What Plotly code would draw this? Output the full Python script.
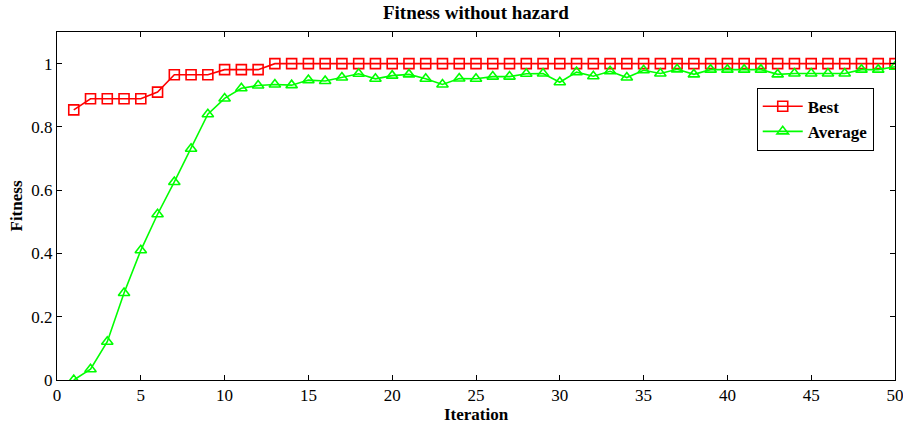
import plotly.graph_objects as go

iterations = list(range(1, 51))
best = [0.854, 0.889, 0.889, 0.889, 0.889, 0.91, 0.965, 0.965, 0.965, 0.981,
        0.981, 0.981] + [1.0] * 38
average = [0.0, 0.034, 0.121, 0.275, 0.41, 0.524, 0.626, 0.731, 0.84, 0.89,
           0.922, 0.931, 0.934, 0.932, 0.948, 0.945, 0.956, 0.968, 0.952, 0.962,
           0.966, 0.952, 0.934, 0.953, 0.952, 0.959, 0.959, 0.968, 0.969, 0.941,
           0.973, 0.96, 0.976, 0.956, 0.979, 0.969, 0.982, 0.966, 0.981, 0.981,
           0.981, 0.981, 0.966, 0.969, 0.969, 0.969, 0.969, 0.981, 0.981, 0.99]

xticks = [0, 5, 10, 15, 20, 25, 30, 35, 40, 45, 50]
yticks = [0, 0.2, 0.4, 0.6, 0.8, 1]
ytick_labels = ["0", "0.2", "0.4", "0.6", "0.8", "1"]

FONT = "Liberation Serif"

fig = go.Figure()
fig.add_trace(go.Scatter(
    x=iterations, y=best, name="<b>Best</b>", mode="lines+markers",
    line=dict(color="#ff0000", width=1.6),
    marker=dict(symbol="square-open", size=10, color="#ff0000", line=dict(width=1.6)),
))
fig.add_trace(go.Scatter(
    x=iterations, y=average, name="<b>Average</b>", mode="lines+markers",
    line=dict(color="#00ff00", width=1.6),
    marker=dict(symbol="triangle-up-open", size=10, color="#00ff00", line=dict(width=1.6)),
))

axis_common = dict(
    showgrid=False, zeroline=False, showline=True, linecolor="black", linewidth=1,
    mirror="ticks", ticks="inside", ticklen=5, tickcolor="black", automargin=False,
    ticklabeloverflow="allow",
    tickfont=dict(family=FONT, size=17, color="black"),
)

fig.update_layout(
    width=903, height=426,
    margin=dict(l=57, r=8, t=32, b=46),
    paper_bgcolor="white", plot_bgcolor="white",
    title=dict(text="<b>Fitness without hazard</b>", x=0.527, xanchor="center",
               y=0.972, yanchor="middle",
               font=dict(family=FONT, size=19, color="black")),
    xaxis=dict(range=[0, 50], tickvals=xticks, title=dict(
        text="<b>Iteration</b>", font=dict(family=FONT, size=17, color="black"), standoff=0),
        **axis_common),
    yaxis=dict(range=[0, 1.1], tickvals=yticks, ticktext=ytick_labels, title=dict(
        text="<b>Fitness</b>", font=dict(family=FONT, size=17, color="black"), standoff=4),
        **axis_common),
    legend=dict(x=0.835, y=0.84, xanchor="left", yanchor="top",
                bgcolor="white", bordercolor="black", borderwidth=1,
                font=dict(family=FONT, size=17, color="black"),
                itemwidth=40, tracegroupgap=0),
    showlegend=True,
)

fig.write_html("out.html")
